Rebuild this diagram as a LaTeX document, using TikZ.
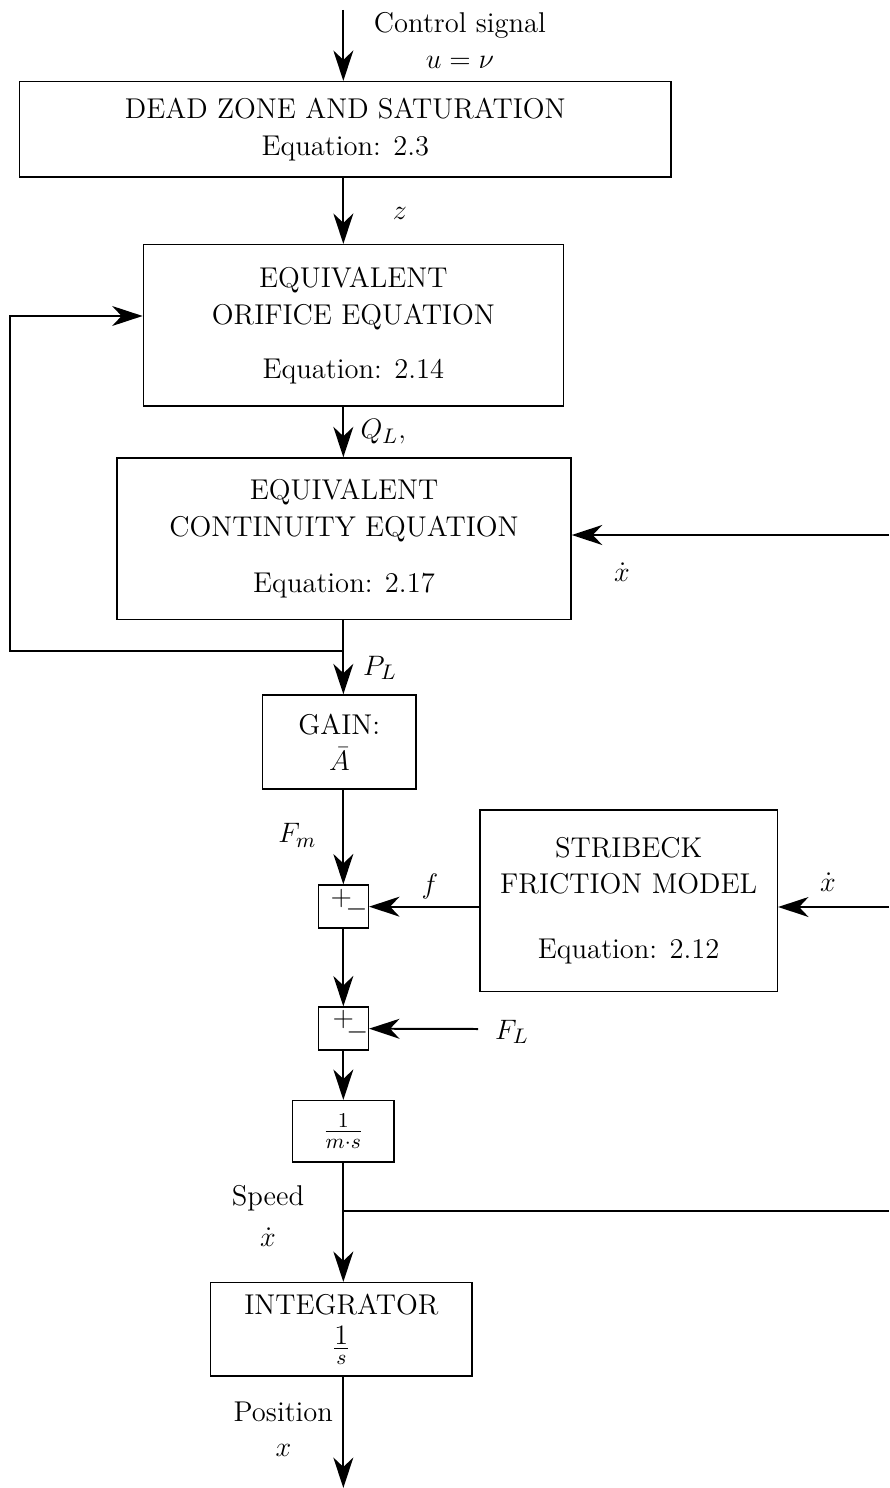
\documentclass[tikz,border=0pt]{standalone}
\usetikzlibrary{arrows.meta}

\tikzset{
  block/.style={draw, line width=0.6pt, align=center, inner sep=0pt},
  sumblock/.style={draw, line width=0.6pt, minimum width=0.75cm, minimum height=0.645cm, inner sep=0pt},
  sig/.style={line width=0.85pt, -{Stealth[length=13pt,width=8.5pt,inset=4pt]}},
  wire/.style={line width=0.85pt},
}

\begin{document}
\begin{tikzpicture}[font=\fontsize{12.2pt}{14.5pt}\selectfont]
    \useasboundingbox (0,0) rectangle (13.335,-22.32);

    % Blocks of the main chain
    \node[block, minimum width=9.77cm, minimum height=1.43cm] (deadzone) at (5.18,-1.94)
        {DEAD ZONE AND SATURATION\\[1.3pt] Equation: 2.3};
    \node[block, minimum width=6.3cm, minimum height=2.42cm] (orifice) at (5.30,-4.88)
        {EQUIVALENT\\[1.3pt] ORIFICE EQUATION\\[8.5pt] Equation: 2.14};
    \node[block, minimum width=6.81cm, minimum height=2.42cm] (continuity) at (5.16,-8.08)
        {EQUIVALENT\\[1.3pt] CONTINUITY EQUATION\\[9.5pt] Equation: 2.17};
    \node[block, minimum width=2.3cm, minimum height=1.41cm] (gain) at (5.09,-11.13)
        {GAIN:\\[1pt] $\bar{A}$};
    \node[block, minimum width=4.46cm, minimum height=2.72cm] (stribeck) at (9.43,-13.51)
        {STRIBECK\\[0.9pt] FRICTION MODEL\\[13.2pt] Equation: 2.12};
    \node[block, minimum width=1.52cm, minimum height=0.92cm] (mass) at (5.15,-16.97)
        {$\frac{1}{m\cdot s}$};
    \node[block, minimum width=3.92cm, minimum height=1.40cm] (integ) at (5.12,-19.94)
        {INTEGRATOR\\[3pt] $\frac{\textstyle 1}{s}$};

    % Summing junctions
    \node[sumblock] (sumf) at (5.15,-13.60) {};
    \node (sumfp) at ([shift={(-0.03,0.12)}]sumf.center) {$+$};
    \node (sumfm) at ([shift={(0.2,-0.04)}]sumf.center) {$-$};
    \node[sumblock] (suml) at (5.15,-15.43) {};
    \node (sumlp) at ([shift={(0,0.14)}]suml.center) {$+$};
    \node (sumlm) at ([shift={(0.21,-0.05)}]suml.center) {$-$};

    % Free ends and branch points
    \coordinate (in) at (5.15,-0.15);
    \coordinate (fb) at (5.15,-9.765);
    \coordinate (loop) at (0.15,-9.765);
    \coordinate (rcont) at (13.335,-8.025);
    \coordinate (rstrib) at (13.335,-13.605);
    \coordinate (load) at (7.17,-15.435);
    \coordinate (sp) at (5.15,-18.165);
    \coordinate (rspeed) at (13.335,-18.165);
    \coordinate (out) at (5.15,-22.32);

    % Main signal path
    \draw[sig] (in) -- (deadzone.north -| in);
    \draw[sig] (deadzone.south -| in) -- (orifice.north -| in);
    \draw[sig] (orifice.south -| in) -- (continuity.north -| in);
    \draw[sig] (continuity.south -| in) -- (gain.north -| in);
    \draw[sig] (gain.south -| in) -- (sumf.north);
    \draw[sig] (sumf.south) -- (suml.north);
    \draw[sig] (suml.south) -- (mass.north);
    \draw[sig] (mass.south) -- (integ.north -| in);
    \draw[sig] (integ.south -| in) -- (out);

    % Feedback and side inputs
    \draw[sig] (fb) -- (loop) |- ([yshift=1.4mm]orifice.west);
    \draw[sig] (rcont) -- (rcont -| continuity.east);
    \draw[sig] (rstrib) -- (rstrib -| stribeck.east);
    \draw[sig] (sumf.east -| stribeck.west) -- (sumf.east);
    \draw[sig] (load) -- (suml.east);
    \draw[wire] (sp) -- (rspeed);

    % Signal labels
    \node (lctrl) at (6.90,-0.375) {Control signal};
    \node (lu) at (6.90,-0.93) {$u=\nu$};
    \node (lz) at (6.0,-3.2) {$z$};
    \node (lq) at (5.75,-6.48) {$Q_L,$};
    \node (lxc) at (9.33,-8.58) {$\dot{x}$};
    \node (lp) at (5.7,-10.02) {$P_L$};
    \node (lfm) at (4.46,-12.53) {$F_m$};
    \node (lf) at (6.45,-13.3) {$f$};
    \node (lxs) at (12.42,-13.23) {$\dot{x}$};
    \node (lfl) at (7.68,-15.48) {$F_L$};
    \node (lspeed) at (4.02,-17.97) {Speed};
    \node (lxd) at (4.02,-18.56) {$\dot{x}$};
    \node (lpos) at (4.25,-21.18) {Position};
    \node (lx) at (4.25,-21.75) {$x$};
\end{tikzpicture}
\end{document}
